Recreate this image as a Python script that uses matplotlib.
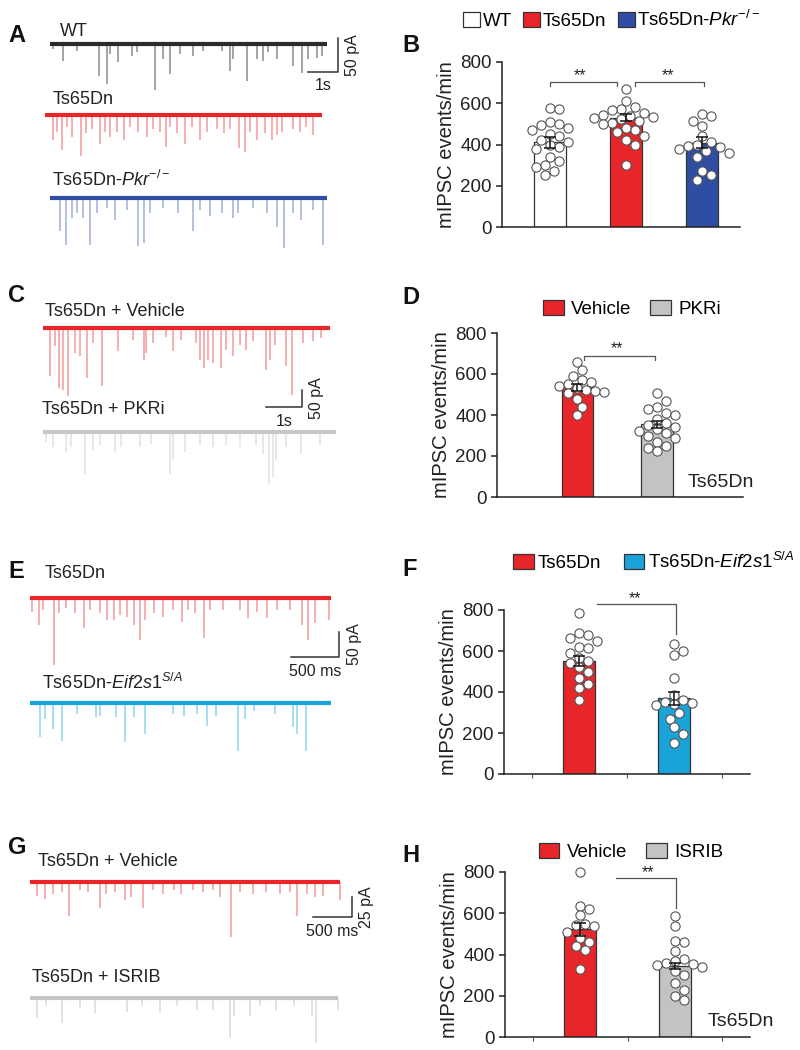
import matplotlib
matplotlib.use("Agg")
import matplotlib.pyplot as plt
import numpy as np
from matplotlib.patches import Patch

plt.rcParams['font.family'] = ['Liberation Sans', 'DejaVu Sans']
plt.rcParams['mathtext.fontset'] = 'custom'
plt.rcParams['mathtext.rm'] = 'Liberation Sans'
plt.rcParams['mathtext.it'] = 'Liberation Sans:italic'

RED = '#e8262a'
BLUE = '#2f4ea3'
CYAN = '#1aa3d9'
GRAY = '#c3c3c5'

# ---- example traces: event times (s, from trace start) and amplitudes (pA)
wt_t = [0.11, 0.42, 0.89, 1.64, 1.91, 2.0, 2.28, 2.72, 2.91, 3.5, 3.78, 4.0, 4.33, 4.78,
        5.11, 5.72, 6.0, 6.11, 6.58, 6.89, 7.11, 7.28, 7.56, 8.09, 8.39, 8.61, 8.89, 9.06]
wt_amp = [7, 25, 10, 47, 59, 15, 27, 17, 12, 68, 22, 44, 15, 17,
          10, 10, 39, 22, 54, 22, 25, 12, 22, 32, 42, 22, 20, 17]

ts_t = [0.28, 0.41, 0.56, 0.72, 0.89, 1.19, 1.37, 1.56, 1.83, 2.0, 2.17, 2.41, 2.63, 2.83,
        3.11, 3.39, 3.61, 3.83, 4.03, 4.17, 4.39, 4.67, 4.89, 5.17, 5.39, 5.72, 5.97, 6.17,
        6.48, 6.67, 6.83, 7.06, 7.33, 7.56, 7.72, 7.89, 8.28, 8.5, 8.7, 8.94]
ts_amp = [37, 25, 51, 17, 32, 61, 27, 20, 42, 25, 32, 25, 37, 17,
          25, 32, 20, 25, 47, 17, 27, 42, 17, 37, 25, 20, 27, 20,
          49, 54, 25, 37, 27, 37, 29, 25, 20, 25, 17, 29]

pkr_t = [0.33, 0.53, 0.72, 0.91, 1.09, 1.33, 1.56, 1.89, 2.17, 2.56, 2.94, 3.13, 3.33, 3.78,
         4.28, 4.76, 5.0, 5.33, 5.72, 6.11, 6.28, 6.78, 7.22, 7.56, 7.8, 8.11, 8.36, 8.78, 9.09]
pkr_amp = [49, 69, 29, 22, 29, 69, 22, 15, 32, 17, 71, 66, 22, 15,
           22, 49, 17, 27, 22, 29, 22, 15, 22, 42, 74, 22, 32, 17, 69]

veh_c_t = [0.19, 0.32, 0.44, 0.56, 0.69, 0.88, 1.02, 1.22, 1.39, 1.65, 2.08, 2.5, 2.8, 2.87,
           3.06, 3.43, 3.61, 3.84, 4.26, 4.35, 4.46, 4.58, 4.72, 4.95, 5.09, 5.28, 5.46, 5.65,
           5.83, 6.2, 6.3, 6.44, 6.76, 6.93, 7.22, 7.5, 7.73]
veh_c_amp = [142, 54, 176, 181, 201, 74, 83, 147, 44, 172, 69, 34, 93, 74,
             44, 25, 69, 34, 44, 93, 118, 93, 103, 118, 64, 83, 49, 64,
             39, 123, 93, 49, 113, 196, 44, 39, 29]

pkri_t = [0.09, 0.28, 0.65, 0.79, 1.16, 1.39, 1.57, 1.99, 2.18, 2.69, 3.01, 3.52, 3.61, 3.94,
          4.35, 4.72, 5.09, 5.46, 5.93, 6.11, 6.28, 6.39, 6.48, 6.76, 7.18, 7.69]
pkri_amp = [29, 44, 59, 44, 123, 54, 39, 59, 44, 44, 34, 123, 83, 59,
            39, 44, 39, 44, 39, 64, 152, 132, 83, 44, 64, 39]

ts_e_t = [0.02, 0.09, 0.14, 0.25, 0.3, 0.38, 0.47, 0.56, 0.63, 0.73, 0.8, 0.87, 0.94, 1.01,
          1.08, 1.15, 1.2, 1.29, 1.39, 1.49, 1.58, 1.65, 1.72, 1.81, 1.88, 2.01, 2.19, 2.27,
          2.36, 2.47, 2.57, 2.71, 2.83, 2.9, 2.97, 3.11]
ts_e_amp = [27, 53, 23, 133, 30, 20, 30, 60, 23, 30, 43, 43, 33, 37,
            53, 83, 43, 30, 37, 23, 47, 23, 30, 80, 23, 23, 23, 40,
            27, 40, 23, 23, 53, 83, 50, 43]

eif_t = [0.1, 0.16, 0.24, 0.33, 0.49, 0.69, 0.73, 0.9, 0.99, 1.08, 1.2, 1.49, 1.6, 1.74,
         1.84, 1.94, 2.17, 2.24, 2.33, 2.55, 2.74, 2.78, 2.88]
eif_amp = [68, 31, 51, 75, 21, 28, 25, 28, 78, 28, 61, 21, 25, 21,
           45, 25, 95, 31, 15, 21, 48, 61, 95]

veh_g_t = [0.09, 0.19, 0.3, 0.41, 0.5, 0.64, 0.75, 0.9, 0.98, 1.09, 1.22, 1.3, 1.45, 1.58,
           1.71, 1.84, 1.94, 2.09, 2.22, 2.35, 2.44, 2.58, 2.69, 2.86, 3.03, 3.21, 3.33, 3.42,
           3.55, 3.65, 3.76, 3.97]
veh_g_amp = [17, 21, 15, 13, 43, 10, 13, 33, 15, 13, 23, 19, 33, 10,
             15, 10, 15, 10, 13, 10, 19, 69, 13, 15, 13, 15, 13, 43,
             15, 19, 17, 23]

isrib_t = [0.09, 0.21, 0.41, 0.64, 0.83, 1.24, 1.43, 1.67, 1.88, 2.14, 2.35, 2.56, 2.61, 2.82,
           2.95, 3.16, 3.38, 3.61, 3.67, 3.95]
isrib_amp = [25, 10, 31, 13, 19, 17, 10, 19, 10, 15, 15, 50, 23, 23,
             10, 15, 10, 23, 56, 15]

# ---- mIPSC frequency (events/min): bar means, SEM and individual cells
b_groups = ['WT', 'Ts65Dn', 'Ts65Dn-$\\mathit{Pkr}^{-/-}$']
b_mean = [410, 530, 408]
b_sem = [28, 17, 27]
b_wt = [575, 570, 510, 500, 495, 480, 470, 450, 440, 420, 410, 400, 390, 380, 340, 320, 300, 290, 270, 250]
b_ts = [670, 610, 580, 570, 565, 555, 545, 540, 535, 530, 525, 515, 505, 500, 480, 470, 460, 440, 420, 400, 300]
b_pkr = [550, 540, 515, 490, 440, 410, 400, 395, 390, 380, 370, 360, 340, 270, 250, 230]

d_groups = ['Vehicle', 'PKRi']
d_mean = [535, 355]
d_sem = [16, 16]
d_veh = [660, 620, 590, 570, 560, 550, 540, 530, 520, 515, 510, 505, 480, 440, 400]
d_pkri = [505, 470, 440, 430, 410, 400, 380, 360, 350, 340, 330, 320, 310, 300, 290, 270, 250, 240, 225]

f_groups = ['Ts65Dn', 'Ts65Dn-$\\mathit{Eif2s1}^{\\mathit{S/A}}$']
f_mean = [550, 370]
f_sem = [25, 32]
f_ts = [785, 690, 680, 665, 650, 620, 615, 590, 565, 550, 540, 520, 500, 470, 440, 420, 360]
f_eif = [635, 600, 580, 470, 385, 360, 350, 345, 340, 335, 300, 270, 230, 195, 150]

h_groups = ['Vehicle', 'ISRIB']
h_mean = [522, 345]
h_sem = [30, 16]
h_veh = [800, 635, 620, 590, 550, 545, 540, 510, 480, 460, 440, 420, 330]
h_isrib = [585, 540, 465, 460, 415, 380, 370, 360, 355, 350, 340, 320, 300, 260, 230, 200, 180]

W, H = 800, 1050
fig = plt.figure(figsize=(8, 10.5), dpi=100)


def fx(x):
    return x / W


def fy(y):
    return 1 - y / H


def trace_panel(pps, ppa, traces, labels, bar_px, bar_s, bar_pa, s_label, pa_label):
    """pps: pixels per second, ppa: pixels per pA. Axis spans the left half."""
    ax = fig.add_axes([0, 0, 0.5, 1])
    ax.set_xlim(0, 400 / pps)
    ax.set_ylim(-H / ppa, 0)
    ax.axis('off')
    for (x0, y0, t, amp, dur, col, base_col) in traces:
        ts0 = x0 / pps
        b = -y0 / ppa
        ax.vlines(ts0 + np.array(t), b, b - np.array(amp), color=col, lw=1.1, alpha=0.75)
        ax.plot([ts0, ts0 + dur], [b, b], color=base_col, lw=3.0, solid_capstyle='butt')
    for (x, y, s) in labels:
        ax.text(x / pps, -y / ppa, s, ha='left', va='center', fontsize=13, color='#222')
    bx, by = bar_px
    ax.plot([bx / pps - bar_s, bx / pps, bx / pps], [-by / ppa, -by / ppa, -by / ppa + bar_pa],
            color='#333', lw=1.1)
    ax.text(bx / pps - bar_s / 2, -(by + 14) / ppa, s_label, ha='center', va='center',
            fontsize=11.5, color='#222')
    ax.text((bx + 15) / pps, -by / ppa + bar_pa / 2, pa_label, ha='center', va='center',
            rotation=90, fontsize=11.5, color='#222')
    return ax


# A
trace_panel(30, 0.68,
            [(50, 44, wt_t, wt_amp, 9.22, '#666666', '#2a2a2a'),
             (45, 115, ts_t, ts_amp, 9.22, '#f07a7c', RED),
             (50, 198, pkr_t, pkr_amp, 9.22, '#7f93cf', '#2f4ea3')],
            [(60, 31, 'WT'), (53, 100, 'Ts65Dn'), (52, 180, 'Ts65Dn-$\\mathit{Pkr}^{-/-}$')],
            (338, 72), 1, 50, '1s', '50 pA')
# C
trace_panel(36, 0.34,
            [(43, 328, veh_c_t, veh_c_amp, 7.96, '#f07a7c', RED),
             (43, 432, pkri_t, pkri_amp, 8.15, '#d8d8d8', '#c8c8c8')],
            [(45, 311, 'Ts65Dn + Vehicle'), (42, 409, 'Ts65Dn + PKRi')],
            (302, 407), 1, 50, '1s', '50 pA')
# E
trace_panel(96, 0.5,
            [(30, 598, ts_e_t, ts_e_amp, 3.14, '#f07a7c', RED),
             (30, 703, eif_t, eif_amp, 3.14, '#6cc6ea', CYAN)],
            [(45, 573, 'Ts65Dn'), (42, 683, 'Ts65Dn-$\\mathit{Eif2s1}^{\\mathit{S/A}}$')],
            (339, 657), 0.5, 50, '500 ms', '50 pA')
# G
trace_panel(78, 0.8,
            [(30, 882, veh_g_t, veh_g_amp, 3.97, '#f07a7c', RED),
             (30, 998, isrib_t, isrib_amp, 3.95, '#d0d0d0', '#c4c4c4')],
            [(38, 862, 'Ts65Dn + Vehicle'), (32, 977, 'Ts65Dn + ISRIB')],
            (352, 917), 0.5, 25, '500 ms', '25 pA')


def swarm(vals, xppu, yppu, d=9.0):
    vals = np.asarray(vals, float)
    offs = np.zeros(len(vals))
    placed = []
    for i in np.argsort(vals)[::-1]:
        y = vals[i] * yppu
        k = 0
        while True:
            cands = [0.0] if k == 0 else [k * d / 2, -k * d / 2]
            ok = None
            for c in cands:
                if all((c - px) ** 2 + (y - py) ** 2 >= (0.95 * d) ** 2 for px, py in placed):
                    ok = c
                    break
            if ok is not None:
                break
            k += 1
        placed.append((ok, y))
        offs[i] = ok / xppu
    return offs


def bar_panel(rect_px, pos, xlim, width, means, sems, dots, colors):
    x, y, w, h = rect_px
    ax = fig.add_axes([fx(x), fy(y + h), w / W, h / H])
    ax.set_xlim(*xlim)
    ax.set_ylim(0, 800)
    xppu = w / (xlim[1] - xlim[0])
    yppu = h / 800
    for p, m, s, v, c in zip(pos, means, sems, dots, colors):
        ax.bar(p, m, width=width, color=c, edgecolor='#333', lw=0.9, zorder=1)
        ax.scatter(p + swarm(v, xppu, yppu), v, s=44, facecolor='white', edgecolor='#555',
                   lw=0.8, zorder=2, clip_on=False)
        ax.errorbar(p, m, yerr=s, color='#111', capsize=4.5, lw=1.1, capthick=1.1, zorder=3)
    for sp in ['top', 'right']:
        ax.spines[sp].set_visible(False)
    for sp in ['left', 'bottom']:
        ax.spines[sp].set_linewidth(1.1)
        ax.spines[sp].set_color('#222')
    ax.set_yticks([0, 200, 400, 600, 800])
    ax.set_xticks([])
    ax.tick_params(axis='y', labelsize=13.5, length=4, width=1.1, colors='#222')
    ax.set_ylabel('mIPSC events/min', fontsize=14.5, color='#222', labelpad=3)
    return ax


def bracket(ax, x1, x2, y, drop1, drop2, star_x, star_y):
    ax.plot([x1, x1, x2, x2], [drop1, y, y, drop2], color='#555', lw=0.9, clip_on=False)
    ax.text(star_x, star_y, '**', ha='center', va='center', fontsize=11.5, color='#222',
            clip_on=False)


# B
axB = bar_panel((502, 62, 238, 165), [0, 1, 2], (-0.63, 2.5), 0.43, b_mean, b_sem,
                [b_wt, b_ts, b_pkr], ['white', RED, BLUE])
bracket(axB, 0, 0.88, 703, 684, 684, 0.40, 732)
bracket(axB, 1.12, 2.03, 703, 684, 684, 1.55, 732)
fig.legend([Patch(facecolor=c, edgecolor='#333', lw=0.9) for c in ['white', RED, BLUE]],
           b_groups, loc='center', bbox_to_anchor=(fx(612), fy(20)), ncol=3, frameon=False,
           fontsize=13.5, handlelength=0.9, handleheight=0.8, handletextpad=0.15,
           columnspacing=0.6)

# D
axD = bar_panel((497, 333, 246, 164), [1, 2], (-0.01, 3.08), 0.39, d_mean, d_sem,
                [d_veh, d_pkri], [RED, GRAY])
bracket(axD, 1.08, 1.98, 688, 668, 668, 1.5, 722)
axD.text(2.38, 73, 'Ts65Dn', ha='left', va='center', fontsize=14, color='#222')
fig.legend([Patch(facecolor=c, edgecolor='#333', lw=0.9) for c in [RED, GRAY]],
           d_groups, loc='center', bbox_to_anchor=(fx(632), fy(309)), ncol=2, frameon=False,
           fontsize=13.5, handlelength=1.1, handleheight=0.8, handletextpad=0.4,
           columnspacing=1.0)

# F
axF = bar_panel((504, 610, 246, 164), [0, 1], (-0.79, 1.8), 0.34, f_mean, f_sem,
                [f_ts, f_eif], [RED, CYAN])
bracket(axF, 0.19, 1.02, 829, 829, 683, 0.59, 855)
axF.set_xticks([-0.5, 0.5, 1.5])
axF.set_xticklabels([])
axF.tick_params(axis='x', length=3, width=0.8, colors='#555')
fig.legend([Patch(facecolor=c, edgecolor='#333', lw=0.9) for c in [RED, CYAN]],
           f_groups, loc='center', bbox_to_anchor=(fx(654), fy(562)), ncol=2, frameon=False,
           fontsize=13.5, handlelength=1.1, handleheight=0.8, handletextpad=0.2,
           columnspacing=1.2)

# H
axH = bar_panel((505, 872, 245, 165), [0, 1], (-0.79, 1.79), 0.34, h_mean, h_sem,
                [h_veh, h_isrib], [RED, GRAY])
bracket(axH, 0.38, 1.01, 771, 771, 625, 0.72, 795)
axH.text(1.34, 73, 'Ts65Dn', ha='left', va='center', fontsize=14, color='#222')
axH.set_xticks([-0.5, 0.5, 1.5])
axH.set_xticklabels([])
axH.tick_params(axis='x', length=3, width=0.8, colors='#555')
fig.legend([Patch(facecolor=c, edgecolor='#333', lw=0.9) for c in [RED, GRAY]],
           h_groups, loc='center', bbox_to_anchor=(fx(631), fy(852)), ncol=2, frameon=False,
           fontsize=13.5, handlelength=1.1, handleheight=0.8, handletextpad=0.4,
           columnspacing=1.0)

# panel letters
for letter, x, y in [('A', 8, 35), ('B', 402, 46), ('C', 8, 295), ('D', 402, 297),
                     ('E', 8, 571), ('F', 402, 569), ('G', 8, 848), ('H', 402, 855)]:
    fig.text(fx(x), fy(y), letter, ha='left', va='center', fontsize=17, fontweight='bold',
             family=['Liberation Sans Narrow', 'Liberation Sans'], color='#111')

fig.savefig('out.png', dpi=100)
